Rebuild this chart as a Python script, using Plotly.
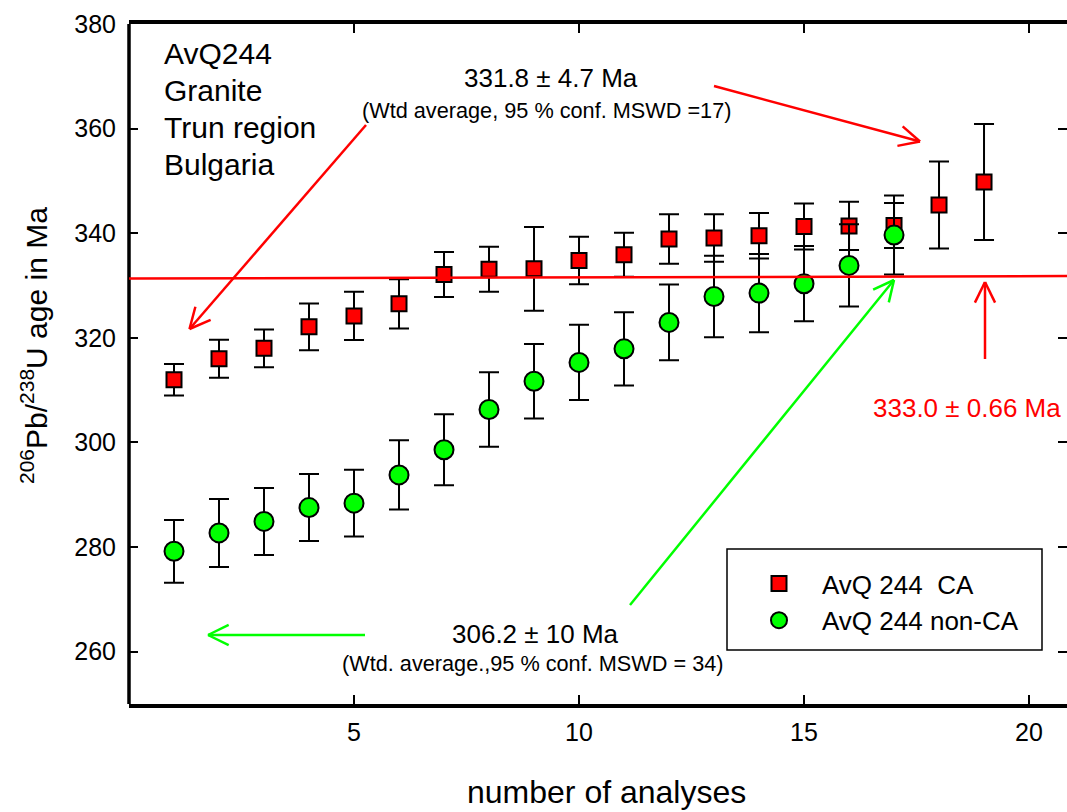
import math
import plotly.graph_objects as go

# ---------------- data ----------------
analysis_ca = list(range(1, 20))
age_ca = [312.0, 316.0, 318.0, 322.1, 324.2, 326.5, 332.1, 333.1, 333.2, 334.8,
          335.9, 338.9, 339.1, 339.5, 341.3, 341.4, 341.5, 345.4, 349.8]
err_ca = [3.0, 3.65, 3.6, 4.45, 4.6, 4.7, 4.3, 4.3, 8.0, 4.55,
          4.2, 4.75, 4.55, 4.35, 4.4, 4.6, 4.3, 8.3, 11.1]

analysis_nonca = list(range(1, 18))
age_nonca = [279.2, 282.7, 284.9, 287.55, 288.4, 293.8, 298.6, 306.3, 311.7, 315.3,
             317.9, 322.95, 327.9, 328.55, 330.35, 333.85, 339.65]
err_nonca = [6.0, 6.5, 6.4, 6.4, 6.4, 6.6, 6.8, 7.1, 7.1, 7.2,
             7.0, 7.25, 7.8, 7.5, 7.2, 7.85, 7.55]

# weighted-mean reference line (slightly tilted in the original)
wm_line_x = [0.0, 20.844]
wm_line_y = [331.35, 331.8]

x_ticks = [5, 10, 15, 20]
y_ticks = [260, 280, 300, 320, 340, 360, 380]

# ---------------- layout geometry ----------------
W, H = 1067, 812
L, T = 129, 24
PW, PH = 938, 680
FONT = "Liberation Sans, Arial, sans-serif"
RED = "#ff0000"
GREEN = "#00ff00"


def px(x):
    return (x - L) / PW


def py(y):
    return 1 - (y - T) / PH


fig = go.Figure()
fig.add_trace(go.Scatter(
    x=analysis_ca, y=age_ca, mode="markers", name="AvQ 244\u00a0 CA",
    marker=dict(symbol="square", size=15, color=RED, line=dict(color="black", width=2)),
    error_y=dict(type="data", array=err_ca, visible=True, color="black", thickness=2, width=10),
))
fig.add_trace(go.Scatter(
    x=analysis_nonca, y=age_nonca, mode="markers", name="AvQ 244 non-CA",
    marker=dict(symbol="circle", size=19, color=GREEN, line=dict(color="black", width=2)),
    error_y=dict(type="data", array=err_nonca, visible=True, color="black", thickness=2, width=10),
))

shapes = []
# left axis line
shapes.append(dict(type="line", xref="paper", yref="paper", x0=0, x1=0, y0=0, y1=1,
                   line=dict(color="black", width=3.5)))
# weighted mean line
shapes.append(dict(type="line", xref="x", yref="y", x0=wm_line_x[0], x1=wm_line_x[1],
                   y0=wm_line_y[0], y1=wm_line_y[1], line=dict(color=RED, width=2.5)))


def arrow(sx, sy, tx, ty, color, lw=2.5, ang=26, ln=23):
    out = [dict(type="line", xref="paper", yref="paper", x0=px(sx), y0=py(sy),
                x1=px(tx), y1=py(ty), line=dict(color=color, width=lw))]
    a = math.atan2(sy - ty, sx - tx)
    for s in (-1, 1):
        b = a + s * math.radians(ang)
        ex, ey = tx + ln * math.cos(b), ty + ln * math.sin(b)
        out.append(dict(type="line", xref="paper", yref="paper", x0=px(tx), y0=py(ty),
                        x1=px(ex), y1=py(ey), line=dict(color=color, width=lw)))
    return out


shapes += arrow(366, 125, 189.5, 329, RED)
shapes += arrow(714, 86, 920, 141.5, RED)
shapes += arrow(985, 359, 985, 282, RED)
shapes += arrow(630, 605, 894, 280, GREEN)
shapes += arrow(365, 635, 208, 635, GREEN)

# legend frame
shapes.append(dict(type="rect", xref="paper", yref="paper", x0=px(727), x1=px(1042),
                   y0=py(650), y1=py(549), line=dict(color="black", width=1.5),
                   fillcolor="white", layer="above"))

ann = []


def text(s, x, y, size, color="black", xanchor="center", angle=0):
    ann.append(dict(text=s, x=px(x), y=py(y), xref="paper", yref="paper", showarrow=False,
                    xanchor=xanchor, yanchor="middle", textangle=angle,
                    font=dict(family=FONT, size=size, color=color)))


for i, line in enumerate(["AvQ244", "Granite", "Trun region", "Bulgaria"]):
    text(line, 162, 54 + i * 36.7, 30, xanchor="left")
text("331.8 \u00b1 4.7 Ma", 550.5, 78, 26)
text("(Wtd average, 95 % conf. MSWD =17)", 546.7, 110, 21.7)
text("306.2 \u00b1 10 Ma", 535.5, 633.5, 26)
text("(Wtd. average.,95 % conf. MSWD = 34)", 532.2, 663, 21.7)
text("333.0 \u00b1 0.66 Ma", 1063, 408, 26, color=RED, xanchor="right")
text("number of analyses", 606.5, 792, 32)
text("<sup>206</sup>Pb/<sup>238</sup>U age in Ma", 34, 346, 30, angle=-90)

fig.update_layout(
    width=W, height=H,
    margin=dict(l=L, r=W - L - PW, t=T, b=H - T - PH, pad=0),
    paper_bgcolor="white", plot_bgcolor="white",
    font=dict(family=FONT, size=25, color="black"),
    shapes=shapes, annotations=ann,
    showlegend=True,
    legend=dict(x=px(736), y=py(560), xanchor="left", yanchor="top",
                bgcolor="rgba(0,0,0,0)", borderwidth=0, itemwidth=76,
                font=dict(family=FONT, size=26, color="black")),
)
fig.update_xaxes(range=[0, 20.844], tickvals=x_ticks, ticks="inside", ticklen=9, tickwidth=2,
                 tickcolor="black", showline=True, linewidth=3.5, linecolor="black",
                 mirror="ticks", showgrid=False, zeroline=False, ticklabelstandoff=3,
                 tickfont=dict(size=25))
fig.update_yaxes(range=[250, 380], tickvals=y_ticks, ticks="inside", ticklen=9, tickwidth=2,
                 tickcolor="black", showline=False, mirror="ticks", showgrid=False,
                 zeroline=False, ticklabelstandoff=12, tickfont=dict(size=25))

fig.write_html("out.html")
